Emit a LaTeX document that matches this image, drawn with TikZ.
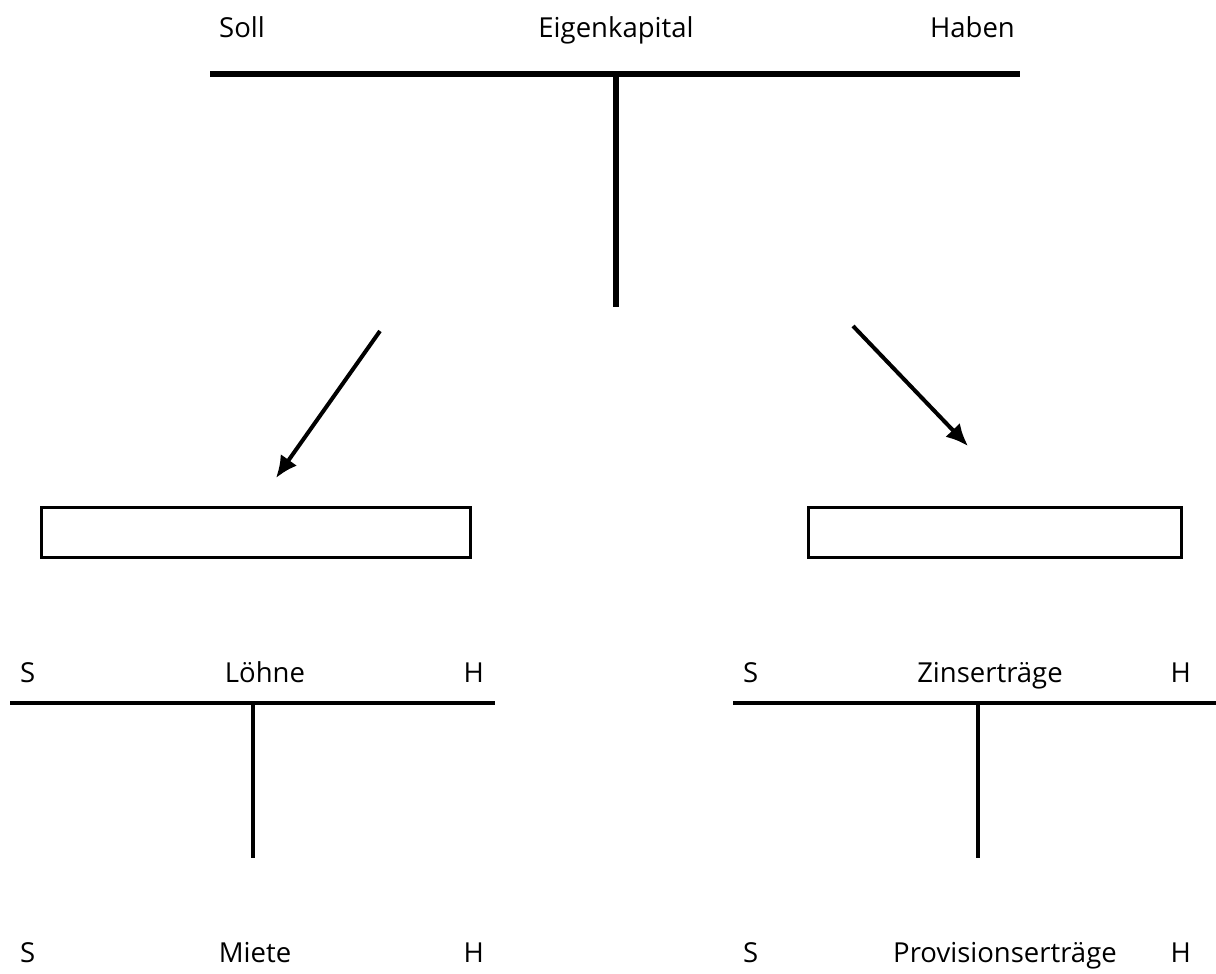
\documentclass[tikz,border=0pt]{standalone}
\usepackage{fontspec}
\setmainfont{Open Sans}
\usetikzlibrary{arrows.meta}
\begin{document}
\begin{tikzpicture}[x=1pt,y=-1pt,
  lbl/.style={inner sep=0pt,font=\fontsize{27.5}{32}\selectfont},
  tbar/.style={line width=6pt},
  tbarthin/.style={line width=4pt},
  emptybox/.style={draw,line width=2.5pt,inner sep=0pt},
  flow/.style={line width=4pt,-{Latex[length=22pt,width=20pt]}}]
\useasboundingbox (0,0) rectangle (1216,974);

% Eigenkapital account
\node[lbl,anchor=base west] (ekS) at (219,38) {Soll};
\node[lbl,anchor=base] (ekT) at (616,38) {Eigenkapital};
\node[lbl,anchor=base east] (ekH) at (1015,38) {Haben};
\draw[tbar] (210,74) -- (1020,74);
\draw[tbar] (616,74) -- (616,307);

% arrows to the two blank boxes
\coordinate (aL1) at (380,331);
\coordinate (aL2) at (276,478);
\coordinate (aR1) at (853,326);
\coordinate (aR2) at (968,446);
\draw[flow] (aL1) -- (aL2);
\draw[flow] (aR1) -- (aR2);

\node[emptybox,minimum width=429pt,minimum height=50pt,anchor=north west] (boxL) at (40,506) {};
\node[emptybox,minimum width=373pt,minimum height=50pt,anchor=north west] (boxR) at (807,506) {};

% Löhne account
\node[lbl,anchor=base west] (lS) at (20,682) {S};
\node[lbl,anchor=base] (lT) at (265,682) {Löhne};
\node[lbl,anchor=base east] (lH) at (484,682) {H};
\draw[tbarthin] (10,703) -- (495,703);
\draw[tbarthin] (253,703) -- (253,858);

% Zinserträge account
\node[lbl,anchor=base west] (zS) at (743,682) {S};
\node[lbl,anchor=base] (zT) at (990,682) {Zinserträge};
\node[lbl,anchor=base east] (zH) at (1191,682) {H};
\draw[tbarthin] (733,703) -- (1216,703);
\draw[tbarthin] (978,703) -- (978,858);

% Miete and Provisionserträge headings
\node[lbl,anchor=base west] (mS) at (20,962) {S};
\node[lbl,anchor=base] (mT) at (255,962) {Miete};
\node[lbl,anchor=base east] (mH) at (484,962) {H};
\node[lbl,anchor=base west] (pS) at (743,962) {S};
\node[lbl,anchor=base] (pT) at (1005,962) {Provisionserträge};
\node[lbl,anchor=base east] (pH) at (1191,962) {H};
\end{tikzpicture}
\end{document}
